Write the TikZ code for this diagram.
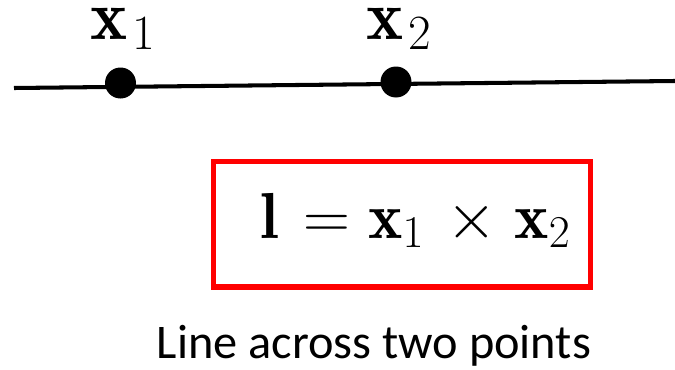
\RequirePackage{fix-cm}
\documentclass[tikz,border=0pt]{standalone}
\usepackage{amsmath,amssymb}
\usepackage{fontspec}
\setsansfont{Carlito}
\usepackage{tikz}
\usetikzlibrary{calc, positioning}
\definecolor{BoxRed}{RGB}{255,0,0}

\tikzset{
  ptdot/.style={circle, fill=black, inner sep=0pt, minimum size=0.62cm},
  ptlabel/.style={anchor=base west, inner sep=0pt, font=\fontsize{40}{42}\selectfont},
}

\begin{document}
\begin{tikzpicture}[
  line width=1.2pt,
]
\useasboundingbox (0,0) rectangle (13.5,7.38);

% The line
\coordinate (lstart) at (0.28,5.62);
\coordinate (lend)   at (13.5,5.76);
\draw[line width=2.3pt] (lstart) -- (lend);

% Points on it
\node[ptdot] (p1) at (2.41,5.72) {};
\node[ptdot] (p2) at (7.92,5.74) {};
\node[ptlabel] (p1lab) at (1.78,6.60) {$\mathbf{x}_{\mkern2mu 1}$};
\node[ptlabel] (p2lab) at (7.30,6.60) {$\mathbf{x}_{\mkern2mu 2}$};

% Cross product, boxed
\draw[BoxRed, line width=3.2pt] (4.27,4.15) rectangle (11.81,1.64);
\node[anchor=base west, inner sep=0pt, font=\fontsize{37}{40}\selectfont] (eq) at (5.18,2.62)
  {$\mathbf{l}\mkern2mu=\mathbf{x}_1\mkern2mu\times\mkern1mu\mathbf{x}_2$};

% Caption
\node[anchor=base, font=\sffamily\fontsize{27.5}{30}\selectfont] (cap) at (7.48,0.22)
  {Line across two points};

\end{tikzpicture}
\end{document}
